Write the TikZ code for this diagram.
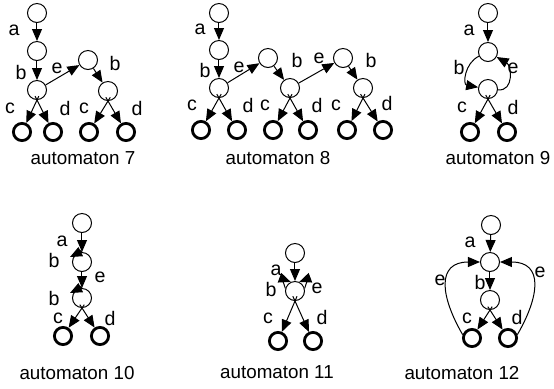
\documentclass[tikz,border=0pt]{standalone}
\usepackage{fontspec}
\setmainfont{Liberation Sans}
\usetikzlibrary{arrows.meta,calc}
\begin{document}
\begin{tikzpicture}[x=0.5pt,y=0.5pt,
 st/.style={circle,draw,line width=0.5pt,minimum size=9.5pt,inner sep=0pt},
 fin/.style={circle,draw,line width=1.4pt,minimum size=8.6pt,inner sep=0pt},
 arr/.style={-{Triangle[length=6pt,width=5pt]},line width=0.5pt},
 lab/.style={font=\fontsize{9.8}{11}\selectfont,inner sep=0pt},
 captxt/.style={font=\fontsize{9.4}{11}\selectfont,inner sep=0pt}]
\useasboundingbox (0,0) rectangle (554,-388);

% ---------- automaton 7 ----------
\node[st] (a1) at (37,-13) {};
\node[st] (a2) at (37,-51) {};
\node[st] (a3) at (37,-90) {};
\node[st] (a4) at (88,-60) {};
\node[st] (a5) at (108,-91) {};
\node[fin] (af1) at (22,-132) {};
\node[fin] (af2) at (53,-132) {};
\node[fin] (af3) at (89,-132) {};
\node[fin] (af4) at (126,-132) {};
\draw[arr] (a1) -- (a2);
\draw[arr] (a2) -- (a3);
\draw[arr] (a3) -- (a4);
\draw[arr] (a4) -- (a5);
\draw[arr] ($(a3.south)!-0.12!(af1)$) -- (af1);
\draw[arr] ($(a3.south)!-0.12!(af2)$) -- (af2);
\draw[arr] ($(a5.south)!-0.12!(af3)$) -- (af3);
\draw[arr] ($(a5.south)!-0.12!(af4)$) -- (af4);
\node[lab] (la7a) at (14,-30) {a};
\node[lab] (la7b) at (21,-72) {b};
\node[lab] (la7e) at (57,-68) {e};
\node[lab] (la7b2) at (115,-63) {b};
\node[lab] (la7c) at (10,-108) {c};
\node[lab] (la7d) at (65,-108) {d};
\node[lab] (la7c2) at (84,-108) {c};
\node[lab] (la7d2) at (137,-108) {d};
\node[captxt] (cap7) at (83,-158) {automaton 7};

% ---------- automaton 8 ----------
\node[st] (b1) at (219,-13) {};
\node[st] (b2) at (219,-50) {};
\node[st] (b3) at (219,-88) {};
\node[st] (b4) at (268,-58) {};
\node[st] (b5) at (290,-88) {};
\node[st] (b6) at (343,-58) {};
\node[st] (b7) at (363,-88) {};
\node[fin] (bf1) at (201,-130) {};
\node[fin] (bf2) at (237,-130) {};
\node[fin] (bf3) at (273,-130) {};
\node[fin] (bf4) at (308,-130) {};
\node[fin] (bf5) at (347,-130) {};
\node[fin] (bf6) at (383,-130) {};
\draw[arr] (b1) -- (b2);
\draw[arr] (b2) -- (b3);
\draw[arr] (b3) -- (b4);
\draw[arr] (b4) -- (b5);
\draw[arr] (b5) -- (b6);
\draw[arr] (b6) -- (b7);
\draw[arr] ($(b3.south)!-0.12!(bf1)$) -- (bf1);
\draw[arr] ($(b3.south)!-0.12!(bf2)$) -- (bf2);
\draw[arr] ($(b5.south)!-0.12!(bf3)$) -- (bf3);
\draw[arr] ($(b5.south)!-0.12!(bf4)$) -- (bf4);
\draw[arr] ($(b7.south)!-0.12!(bf5)$) -- (bf5);
\draw[arr] ($(b7.south)!-0.12!(bf6)$) -- (bf6);
\node[lab] (lb8a) at (200,-29) {a};
\node[lab] (lb8b) at (205,-70) {b};
\node[lab] (lb8e) at (239,-67) {e};
\node[lab] (lb8b2) at (297,-60) {b};
\node[lab] (lb8e2) at (319,-58) {e};
\node[lab] (lb8b3) at (371,-60) {b};
\node[lab] (lb8c) at (192,-105) {c};
\node[lab] (lb8d) at (248,-105) {d};
\node[lab] (lb8c2) at (265,-105) {c};
\node[lab] (lb8d2) at (317,-105) {d};
\node[lab] (lb8c3) at (336,-105) {c};
\node[lab] (lb8d3) at (387,-103) {d};
\node[captxt] (cap8) at (278,-158) {automaton 8};

% ---------- automaton 9 ----------
\node[st] (c1) at (488,-13) {};
\node[st] (c2) at (488,-52) {};
\node[st] (c3) at (488,-89) {};
\node[fin] (cf1) at (470,-132) {};
\node[fin] (cf2) at (507,-132) {};
\draw[arr] (c1) -- (c2);
\draw[arr] (c2) to[out=205,in=170,looseness=1.3] (c3);
\draw[arr] (c3) to[out=-5,in=-30,looseness=1.3] (c2);
\draw[arr] ($(c3.south)!-0.12!(cf1)$) -- (cf1);
\draw[arr] ($(c3.south)!-0.12!(cf2)$) -- (cf2);
\node[lab] (lc9a) at (469,-30) {a};
\node[lab] (lc9b) at (459,-67) {b};
\node[lab] (lc9e) at (513,-68) {e};
\node[lab] (lc9c) at (462,-107) {c};
\node[lab] (lc9d) at (513,-107) {d};
\node[captxt] (cap9) at (498,-158) {automaton 9};

% ---------- automaton 10 ----------
\node[st] (d1) at (82,-223) {};
\node[st] (d2) at (82,-262) {};
\node[st] (d3) at (82,-298) {};
\node[fin] (df1) at (63,-336) {};
\node[fin] (df2) at (100,-336) {};
\coordinate (dl2) at ($(d2)+(-12,5)$);
\coordinate (dl3) at ($(d3)+(-12,5)$);
\draw[arr] (d1) -- (d2);
\draw[arr] (d2) -- (d3);
\draw[arr] (d2.north) .. controls +(-3,5) and +(6,3) .. (dl2);
\draw[arr] (d3.north) .. controls +(-3,5) and +(6,3) .. (dl3);
\draw[arr] ($(d3.south)!-0.12!(df1)$) -- (df1);
\draw[arr] ($(d3.south)!-0.12!(df2)$) -- (df2);
\node[lab] (ld10a) at (62,-241) {a};
\node[lab] (ld10b) at (54,-260) {b};
\node[lab] (ld10e) at (100,-277) {e};
\node[lab] (ld10b2) at (54,-298) {b};
\node[lab] (ld10c) at (58,-318) {c};
\node[lab] (ld10d) at (110,-318) {d};
\node[captxt] (cap10) at (77,-373) {automaton 10};

% ---------- automaton 11 ----------
\node[st] (e1) at (295,-253) {};
\node[st] (e2) at (295,-291) {};
\node[fin] (ef1) at (278,-341) {};
\node[fin] (ef2) at (313,-341) {};
\draw[arr] (e1) -- (e2);
\draw[arr] (e2.165) .. controls +(-3,9) and +(-8,3) .. (e2.115);
\draw[arr] (e2.15) .. controls +(3,9) and +(8,3) .. (e2.65);
\draw[arr] ($(e2.south)!-0.12!(ef1)$) -- (ef1);
\draw[arr] ($(e2.south)!-0.12!(ef2)$) -- (ef2);
\node[lab] (le11a) at (276,-270) {a};
\node[lab] (le11b) at (271,-289) {b};
\node[lab] (le11e) at (317,-288) {e};
\node[lab] (le11c) at (268,-318) {c};
\node[lab] (le11d) at (322,-317) {d};
\node[captxt] (cap11) at (277,-372) {automaton 11};

% ---------- automaton 12 ----------
\node[st] (g1) at (491,-225) {};
\node[st] (g2) at (490,-262) {};
\node[st] (g3) at (490,-300) {};
\node[fin] (gf1) at (472,-338) {};
\node[fin] (gf2) at (508,-338) {};
\draw[arr] (g1) -- (g2);
\draw[arr] (g2) -- (g3);
\draw[arr] ($(g3.south)!-0.12!(gf1)$) -- (gf1);
\draw[arr] ($(g3.south)!-0.12!(gf2)$) -- (gf2);
\draw[arr] (gf1.160) .. controls +(-22,38) and +(-44,0) .. (g2.west);
\draw[arr] (gf2.20) .. controls +(22,38) and +(44,0) .. (g2.east);
\node[lab] (lg12a) at (470,-242) {a};
\node[lab] (lg12e) at (440,-280) {e};
\node[lab] (lg12b) at (480,-282) {b};
\node[lab] (lg12e2) at (540,-272) {e};
\node[lab] (lg12c) at (467,-318) {c};
\node[lab] (lg12d) at (517,-317) {d};
\node[captxt] (cap12) at (462,-373) {automaton 12};
\end{tikzpicture}
\end{document}
